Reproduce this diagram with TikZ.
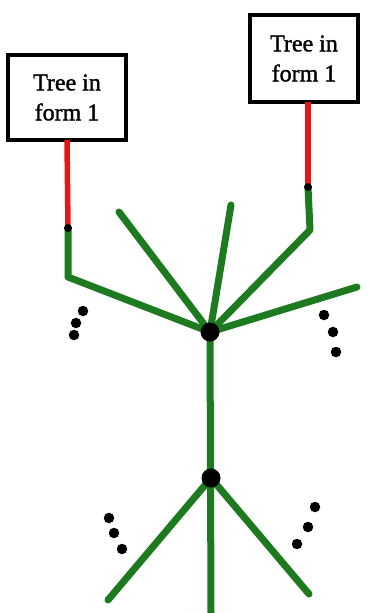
\documentclass[tikz,border=0pt]{standalone}
\usepackage{fontspec}
\setmainfont{Liberation Serif}
\definecolor{treegreen}{RGB}{30,122,30}
\definecolor{treered}{RGB}{228,22,22}
\begin{document}
\begin{tikzpicture}[x=1pt,y=-1pt,
  formbox/.style={draw=black,line width=4.5pt,fill=white,inner sep=0pt,align=center,
    font=\fontsize{24}{30}\selectfont\addfontfeatures{FakeBold=1.5}},
  branch/.style={draw=treegreen,line width=7pt,line cap=round,line join=round},
  redline/.style={draw=treered,line width=5.5pt},
  hub/.style={circle,fill=black,minimum size=19pt,inner sep=0pt},
  joint/.style={circle,fill=black,minimum size=8pt,inner sep=0pt},
  ell/.style={circle,fill=black,minimum size=10.5pt,inner sep=0pt}]
\useasboundingbox (0,0) rectangle (370,613);
\fill[white] (0,0) rectangle (370,613);
% boxes
\node[formbox,minimum width=118pt,minimum height=85pt] (boxL) at (67,97.5) {Tree in\\form 1};
\node[formbox,minimum width=108pt,minimum height=87pt] (boxR) at (304,58.5) {Tree in\\form 1};
% coordinates
\coordinate (topL) at (67,140);
\coordinate (topR) at (308,102);
\coordinate (cornerL) at (68,277);
\coordinate (cornerR) at (310,230);
\coordinate (tipA) at (119,212);
\coordinate (tipB) at (231,205);
\coordinate (tipC) at (357,287);
\coordinate (hubA) at (210,332);
\coordinate (hubB) at (211,478);
\coordinate (bottom) at (211,613);
\coordinate (tipD) at (108,600);
\coordinate (tipE) at (309,594);
\coordinate (jL) at (68,228);
\coordinate (jR) at (308,187);
% red lines
\draw[redline] (topL) -- (jL);
\draw[redline] (topR) -- (jR);
% green branches
\draw[branch] (jL) -- (cornerL) -- (hubA);
\draw[branch] (jR) -- (cornerR) -- (hubA);
\draw[branch] (hubA) -- (tipA);
\draw[branch] (hubA) -- (tipB);
\draw[branch] (hubA) -- (tipC);
\draw[branch] (hubA) -- (bottom);
\draw[branch] (hubB) -- (tipD);
\draw[branch] (hubB) -- (tipE);
% hubs and joints
\node[hub] (hA) at (hubA) {};
\node[hub] (hB) at (hubB) {};
\node[joint] (jLn) at (jL) {};
\node[joint] (jRn) at (jR) {};
% ellipsis dots
\node[ell] (d1) at (83,311) {};
\node[ell] (d2) at (76,323) {};
\node[ell] (d3) at (74,335) {};
\node[ell] (d4) at (324,315) {};
\node[ell] (d5) at (333,332) {};
\node[ell] (d6) at (336,352) {};
\node[ell] (d7) at (109,518) {};
\node[ell] (d8) at (114,533) {};
\node[ell] (d9) at (122,549) {};
\node[ell] (d10) at (315,507) {};
\node[ell] (d11) at (308,527) {};
\node[ell] (d12) at (297,544) {};
\end{tikzpicture}
\end{document}
